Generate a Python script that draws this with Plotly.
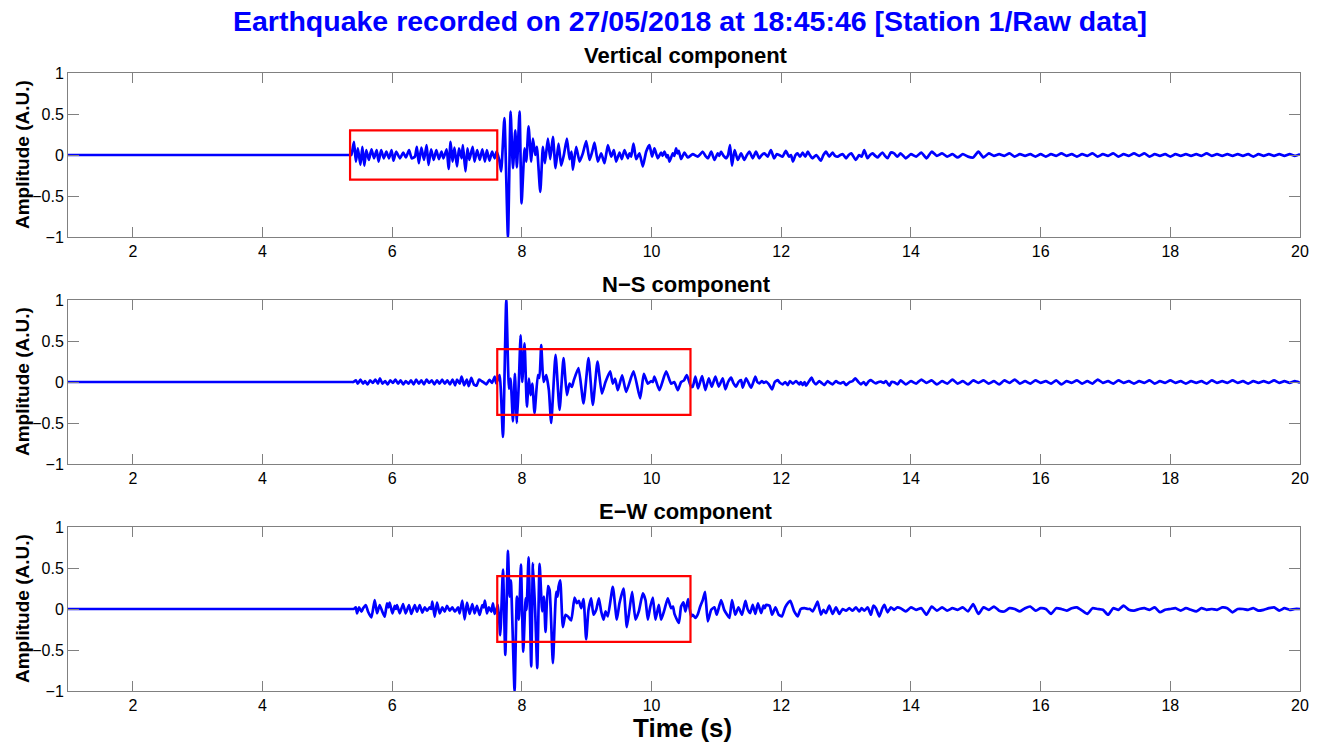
import numpy as np
import plotly.graph_objects as go

# ---------------- DATA ----------------
main_title = "Earthquake recorded on 27/05/2018 at 18:45:46 [Station 1/Raw data]"
components = ["Vertical component", "N\u2212S component", "E\u2212W component"]
x_ticks = [2, 4, 6, 8, 10, 12, 14, 16, 18, 20]
y_ticks = [-1, -0.5, 0, 0.5, 1]

# Vertical component: times (s) and amplitudes (A.U.) of the trace turning points
vert_t = [1.0, 5.35, 5.37, 5.41, 5.44, 5.47, 5.51, 5.54, 5.57, 5.60, 5.64, 5.68, 5.72, 5.76, 5.79,
          5.83, 5.87, 5.91, 5.95, 5.99, 6.02, 6.06, 6.12, 6.17, 6.21, 6.26, 6.30, 6.35, 6.38, 6.41,
          6.45, 6.49, 6.53, 6.56, 6.60, 6.64, 6.68, 6.72, 6.76, 6.79, 6.84, 6.87, 6.90, 6.93, 6.96,
          7.00, 7.03, 7.07, 7.09, 7.13, 7.16, 7.19, 7.24, 7.27, 7.31, 7.35, 7.39, 7.43, 7.46, 7.50,
          7.54, 7.58, 7.61, 7.65, 7.68, 7.73, 7.785, 7.826, 7.862, 7.898, 7.923, 7.964, 7.995, 8.041,
          8.067, 8.103, 8.144, 8.170, 8.206, 8.231, 8.283, 8.324, 8.355, 8.401, 8.437, 8.478, 8.519,
          8.565, 8.606, 8.647, 8.694, 8.735, 8.766, 8.786, 8.837, 8.889, 8.940, 8.992, 9.043, 9.084,
          9.120, 9.171, 9.223, 9.274, 9.326, 9.377, 9.418, 9.454, 9.505, 9.541, 9.582, 9.634, 9.66,
          9.685, 9.721, 9.762, 9.813, 9.865, 9.916, 9.967, 10.008, 10.044, 10.096, 10.147, 10.17,
          10.198, 10.234, 10.25, 10.276, 10.327, 10.35, 10.378, 10.40, 10.419, 10.455, 10.507, 10.558,
          10.635, 10.712, 10.79, 10.83, 10.87, 10.92, 10.97, 11.02, 11.045, 11.07, 11.11, 11.15, 11.18,
          11.21, 11.24, 11.28, 11.33, 11.38, 11.43, 11.47, 11.51, 11.56, 11.61, 11.66, 11.70, 11.74,
          11.79, 11.84, 11.89, 11.93, 11.97, 12.02, 12.07, 12.12, 12.15, 12.18, 12.22, 12.25, 12.29,
          12.33, 12.37, 12.41, 12.44, 12.48, 12.54, 12.61, 12.65, 12.69, 12.74, 12.79, 12.83, 12.87,
          12.91, 12.95, 13.00, 13.04, 13.08, 13.15, 13.20, 13.24, 13.28, 13.33, 13.37, 13.41, 13.45,
          13.49, 13.52, 13.56, 13.60, 13.64, 13.69, 13.74, 13.79]
vert_a = [0.0, 0.0, 0.0, 0.16, -0.08, 0.08, -0.12, 0.10, -0.13, 0.06, -0.06, 0.07, -0.04, 0.06, -0.08,
          0.06, -0.04, 0.04, -0.04, 0.06, -0.07, 0.04, -0.04, 0.03, -0.03, 0.06, -0.04, -0.02, 0.10, -0.10,
          0.09, -0.06, 0.12, -0.12, 0.07, -0.06, 0.06, -0.05, 0.04, -0.04, 0.07, -0.17, 0.16, -0.08, 0.09,
          -0.14, 0.08, -0.04, 0.12, -0.20, 0.08, -0.06, 0.10, -0.08, 0.06, -0.06, 0.07, -0.08, 0.06, -0.07,
          0.04, -0.04, 0.04, -0.06, -0.20, 0.45, -1.0, 0.53, -0.16, 0.30, -0.15, 0.53, -0.59, 0.08,
          -0.08, 0.35, -0.08, 0.20, 0.0, 0.10, -0.45, 0.10, -0.10, 0.20, -0.05, 0.22, -0.16,
          0.14, -0.13, 0.0, 0.20, -0.05, 0.04, -0.18, 0.10, -0.08, 0.02, 0.17, -0.06, 0.04,
          0.15, -0.08, 0.02, -0.10, 0.12, -0.02, 0.06, -0.08, 0.03, -0.05, 0.06, -0.04, 0.02,
          -0.02, 0.14, -0.05, 0.02, -0.14, 0.04, 0.12, -0.02, 0.08, -0.04, 0.03, -0.01,
          0.04, -0.03, 0.0, -0.08, 0.02, -0.01, 0.08, 0.02, 0.05, -0.05, 0.03, -0.03,
          0.01, -0.02, 0.04, -0.01, -0.04, 0.04, -0.06, 0.02, -0.01, 0.04, -0.01, -0.04, 0.0,
          0.12, -0.13, 0.06, -0.06, 0.02, -0.06, 0.0, 0.04, -0.04, 0.04, -0.04, 0.0, 0.02,
          -0.02, 0.06, -0.04, 0.01, 0.0, -0.02, 0.05, -0.02, 0.0, -0.08, 0.0, 0.02, -0.02,
          0.03, -0.02, 0.04, 0.0, -0.04, 0.0, -0.07, 0.0, 0.04, -0.02, 0.03, -0.01, -0.02,
          0.0, 0.01, -0.04, 0.0, 0.02, -0.06, 0.0, -0.02, 0.06, -0.04, 0.0, 0.02, -0.01,
          -0.03, 0.0, 0.03, -0.01, -0.04, 0.03, 0.02, -0.02]
vert_tail = [0.02, -0.04, 0.01, -0.02, 0.03, -0.04, 0.04, -0.01, 0.02, -0.02, 0.01, -0.03, 0.01, -0.02,
             -0.03, 0.04, -0.03, 0.02, -0.01, 0.01, -0.01, 0.02, -0.02, 0.01, -0.01, 0.01, -0.02, 0.01,
             -0.02, 0.01, -0.01, 0.02, -0.01, 0.01, -0.02, 0.01, -0.01, 0.02, -0.02, 0.01, -0.01, 0.02,
             -0.02, 0.01, -0.01, 0.02, -0.01, 0.02, -0.02, 0.01, -0.01, 0.01, -0.02, 0.01, -0.01, 0.01,
             -0.01, 0.01, -0.01, 0.02, -0.01, 0.01, -0.01, 0.01, -0.01, 0.01, -0.01, 0.01, -0.02, 0.01,
             -0.01, 0.01, -0.01, 0.01, -0.01, 0.01, -0.01, 0.01]

# N-S component
ns_t = [1.0, 5.38, 5.40, 5.44, 5.47, 5.51, 5.55, 5.58, 5.62, 5.66, 5.70, 5.74, 5.78, 5.81, 5.85, 5.89,
        5.93, 5.97, 6.01, 6.05, 6.09, 6.13, 6.17, 6.21, 6.25, 6.29, 6.33, 6.37, 6.41, 6.45, 6.49, 6.53,
        6.57, 6.61, 6.65, 6.69, 6.73, 6.77, 6.81, 6.85, 6.89, 6.93, 6.97, 7.00, 7.04, 7.07, 7.11, 7.15,
        7.18, 7.22, 7.26, 7.30, 7.34, 7.38, 7.42, 7.45, 7.50, 7.54, 7.58, 7.605, 7.656, 7.708, 7.759,
        7.80, 7.825, 7.862, 7.892, 7.923, 7.954, 7.98, 8.005, 8.041, 8.077, 8.108, 8.134, 8.16, 8.195,
        8.247, 8.27, 8.298, 8.334, 8.375, 8.416, 8.452, 8.519, 8.581, 8.642, 8.694, 8.735, 8.771, 8.80,
        8.873, 8.95, 9.027, 9.094, 9.166, 9.233, 9.289, 9.361, 9.402, 9.438, 9.479, 9.546, 9.608,
        9.721, 9.824, 9.88, 9.942, 9.993, 10.02, 10.044, 10.121, 10.224, 10.301, 10.35, 10.404,
        10.455, 10.50, 10.543, 10.61, 10.635, 10.676, 10.717, 10.779, 10.83, 10.882, 10.928, 10.984,
        11.036, 11.097, 11.139, 11.18, 11.226, 11.26, 11.303, 11.34, 11.38, 11.406, 11.457, 11.50,
        11.534, 11.57, 11.601, 11.63, 11.663, 11.70, 11.73, 11.765, 11.81, 11.858, 11.90, 11.945,
        11.98, 12.022, 12.06, 12.099, 12.135, 12.18, 12.227, 12.279, 12.30, 12.33, 12.36, 12.381,
        12.42, 12.469, 12.50, 12.536, 12.587, 12.62, 12.664, 12.715, 12.75, 12.792, 12.844, 12.88,
        12.921, 12.96, 12.998, 13.049, 13.10, 13.142, 13.19, 13.229, 13.27, 13.306, 13.35, 13.383,
        13.42, 13.46, 13.50, 13.537, 13.58, 13.614, 13.666, 13.70, 13.743, 13.794]
ns_a = [0.0, 0.0, 0.0, 0.02, -0.02, 0.03, -0.02, 0.01, -0.03, 0.02, -0.01, 0.03, -0.02, 0.045, -0.02, 0.01,
        -0.03, 0.02, -0.01, 0.03, -0.02, 0.02, -0.03, 0.01, -0.02, 0.02, -0.03, 0.03, -0.02, 0.02, -0.03, 0.03,
        -0.01, 0.02, -0.03, 0.02, -0.02, 0.03, -0.02, 0.02, -0.03, 0.03, -0.04, 0.03, -0.02, 0.065, -0.04, 0.03,
        -0.05, 0.05, -0.03, -0.045, 0.03, 0.01, -0.01, -0.03, 0.025, -0.01, 0.065, -0.015, 0.085, -0.67, 1.0,
        -0.08, 0.04, -0.48, 0.10, -0.50, 0.02, 0.57, 0.0, 0.47, -0.30, 0.04, -0.16, -0.02, -0.38,
        0.085, 0.05, 0.45, 0.0, 0.085, -0.10, -0.50, 0.33, -0.34, 0.29, -0.16, -0.02, -0.06, 0.02,
        0.17, -0.26, 0.29, -0.28, 0.25, -0.14, 0.0, 0.13, -0.02, 0.04, -0.10, 0.08, -0.12,
        0.13, -0.20, 0.10, -0.02, 0.01, 0.0, 0.065, -0.10, 0.13, -0.02, 0.0, -0.10,
        0.0, 0.02, 0.085, -0.06, -0.057, 0.065, -0.077, 0.073, -0.098, 0.045, -0.057, 0.065,
        -0.057, 0.045, -0.089, 0.0, 0.053, -0.01, -0.057, 0.0, 0.024, -0.069, 0.045, -0.02,
        -0.069, 0.0, 0.065, 0.0, -0.016, 0.01, -0.01, 0.004, -0.03, -0.089, 0.0, 0.024,
        -0.01, -0.028, 0.0, -0.037, 0.012, -0.02, 0.012, -0.028, 0.0, -0.037, 0.0, -0.045,
        0.0, 0.053, 0.0, -0.028, 0.012, -0.01, -0.037, 0.012, -0.01, -0.028, 0.012, -0.01,
        -0.016, 0.0, -0.037, -0.004, 0.01, 0.045, 0.0, -0.028, 0.0, -0.037, 0.01, 0.024,
        0.0, -0.016, 0.0, 0.004, -0.01, 0.012, -0.045, 0.0, -0.004, -0.028]
ns_tail = [0.02, -0.03, 0.01, -0.02, 0.03, -0.01, 0.02, -0.03, 0.01, -0.02, 0.03, -0.02, 0.01, -0.03,
           0.02, -0.01, 0.02, -0.02, 0.01, -0.03, 0.02, -0.01, 0.03, -0.02, 0.01, -0.02, 0.02, -0.01,
           0.01, -0.02, 0.02, -0.03, 0.01, -0.01, 0.02, -0.02, 0.01, -0.02, 0.03, -0.01, 0.01, -0.02,
           0.02, -0.01, 0.01, -0.02, 0.01, -0.01, 0.02, -0.02, 0.01, -0.01, 0.02, -0.01, 0.01, -0.02,
           0.01, -0.01, 0.01, -0.02, 0.02, -0.01, 0.01, -0.01, 0.02, -0.01, 0.01, -0.02, 0.01, -0.01,
           0.01, -0.01, 0.02, -0.01, 0.01, -0.01, 0.01, -0.01]

# E-W component
ew_t = [1.0, 5.40, 5.407, 5.438, 5.458, 5.489, 5.525, 5.551, 5.592, 5.628, 5.679, 5.730, 5.766, 5.807,
        5.848, 5.884, 5.920, 5.94, 5.961, 6.003, 6.039, 6.056, 6.074, 6.116, 6.167, 6.208, 6.259,
        6.295, 6.347, 6.383, 6.424, 6.465, 6.501, 6.537, 6.578, 6.60, 6.619, 6.655, 6.691, 6.732,
        6.773, 6.809, 6.845, 6.886, 6.927, 6.968, 7.014, 7.040, 7.081, 7.117, 7.153, 7.194, 7.235,
        7.271, 7.307, 7.348, 7.389, 7.41, 7.430, 7.461, 7.492, 7.528, 7.554, 7.579, 7.63, 7.666,
        7.708, 7.744, 7.785, 7.81, 7.83, 7.887, 7.923, 7.954, 7.985, 8.021, 8.057, 8.072, 8.103,
        8.144, 8.170, 8.206, 8.237, 8.273, 8.313, 8.339, 8.365, 8.401, 8.427, 8.478, 8.529, 8.55,
        8.565, 8.591, 8.632, 8.673, 8.709, 8.76, 8.812, 8.848, 8.879, 8.914, 8.950, 8.991, 9.027,
        9.068, 9.104, 9.146, 9.187, 9.223, 9.259, 9.29, 9.325, 9.402, 9.464, 9.505, 9.567, 9.618,
        9.659, 9.700, 9.752, 9.803, 9.865, 9.906, 9.942, 9.978, 10.019, 10.06, 10.111, 10.147,
        10.198, 10.25, 10.301, 10.33, 10.353, 10.42, 10.455, 10.491, 10.522, 10.563, 10.61, 10.635,
        10.676, 10.71, 10.75, 10.79, 10.825, 10.867, 10.92, 10.97, 11.005, 11.072, 11.12, 11.165,
        11.2, 11.241, 11.29, 11.34, 11.395, 11.447, 11.48, 11.52, 11.56, 11.60, 11.64, 11.69,
        11.725, 11.745, 11.765, 11.82, 11.858, 11.91, 11.96, 12.01, 12.06, 12.11, 12.14, 12.20,
        12.253, 12.30, 12.356, 12.41, 12.443, 12.485, 12.536, 12.56, 12.613, 12.65, 12.69, 12.74,
        12.792, 12.844, 12.895, 12.946, 12.998, 13.049, 13.10, 13.152, 13.203, 13.24, 13.28,
        13.332, 13.383, 13.42, 13.46, 13.511, 13.56, 13.59, 13.64, 13.69, 13.74, 13.79]
ew_a = [0.0, 0.0, 0.0, 0.02, -0.053, 0.02, -0.033, 0.008, 0.049, -0.033, -0.102, 0.11, -0.053, 0.049,
        -0.033, -0.093, 0.069, 0.02, 0.077, -0.053, 0.037, 0.0, 0.049, -0.053, 0.061, -0.053, 0.049,
        -0.061, 0.049, -0.033, 0.049, -0.045, 0.02, -0.02, 0.02, 0.0, 0.09, -0.093, 0.077, -0.053,
        0.02, -0.033, 0.037, -0.02, 0.02, -0.033, 0.02, -0.053, 0.102, -0.126, 0.077, -0.061, 0.061,
        -0.053, 0.037, -0.073, 0.049, 0.02, 0.102, -0.053, 0.02, -0.033, 0.069, -0.061, 0.049, -0.32,
        0.48, -0.56, 0.71, 0.15, 0.35, -1.0, 0.15, -0.13, 0.54, -0.52, 0.13, -0.01, 0.63,
        -0.70, 0.56, -0.05, -0.72, 0.55, -0.03, 0.15, -0.28, 0.28, 0.23, -0.66, 0.21, 0.15,
        0.27, 0.35, -0.22, -0.07, -0.09, -0.14, 0.14, 0.07, 0.10, 0.01, 0.12, -0.37, -0.01,
        0.13, -0.07, -0.01, 0.13, -0.03, -0.13, -0.03, -0.09, 0.27, -0.13, 0.07, 0.25, -0.22,
        -0.01, 0.21, -0.13, -0.03, 0.19, 0.11, -0.13, 0.02, 0.14, -0.13, 0.05, -0.13,
        -0.01, 0.13, 0.01, 0.03, -0.06, -0.17, 0.03, 0.08, -0.03, 0.12, -0.09, -0.07,
        -0.11, -0.07, 0.03, 0.11, 0.21, -0.15, -0.01, 0.02, -0.07, 0.11, -0.01, -0.07,
        -0.11, 0.11, -0.07, 0.02, -0.07, 0.10, 0.0, -0.05, 0.05, -0.06, 0.07, -0.05,
        0.04, 0.01, 0.05, 0.04, -0.07, 0.02, -0.07, -0.09, 0.02, 0.08, 0.10, -0.03,
        -0.09, 0.0, 0.01, 0.0, 0.0, -0.03, 0.05, 0.09, -0.07, -0.01, -0.05, 0.04,
        -0.06, 0.02, -0.06, 0.0, -0.02, 0.01, -0.02, 0.02, -0.03, 0.01, -0.02,
        0.02, -0.07, 0.04, 0.01, -0.09, 0.01, 0.05, -0.04, 0.02, -0.01, 0.02]
ew_tail = [0.01, -0.03, 0.02, -0.01, 0.01, -0.07, 0.03, -0.02, 0.02, -0.02, 0.01, -0.01, 0.02, -0.03,
           0.06, -0.06, 0.02, -0.01, 0.03, -0.02, -0.03, 0.01, 0.0, -0.03, 0.01, 0.03, -0.02, 0.01,
           0.0, -0.06, 0.01, 0.0, -0.02, 0.01, 0.02, -0.02, -0.06, 0.01, 0.0, -0.01, -0.07, 0.01,
           -0.01, 0.04, -0.01, -0.02, 0.0, 0.01, -0.01, 0.02, -0.04, -0.01, 0.0, 0.01, -0.02, 0.01,
           -0.01, -0.03, 0.01, -0.01, 0.0, -0.01, 0.02, 0.01, -0.04, 0.0, 0.0, -0.01, 0.01, -0.02,
           -0.01, 0.01, 0.02, -0.02, 0.01, -0.01, 0.0, 0.0]

series = [(vert_t, vert_a, vert_tail), (ns_t, ns_a, ns_tail), (ew_t, ew_a, ew_tail)]
tail_start, tail_end = 13.84, 20.0

# red boxes around the highlighted phases (time start, time end, half-height)
box_t0 = [5.35, 7.62, 7.62]
box_t1 = [7.62, 10.6, 10.6]
box_h = [0.3, 0.4, 0.4]

# ---------------- LAYOUT ----------------
W, H = 1322, 745
X0, X1 = 68, 1300            # left / right edge of the axes boxes (px)
panels = [(73, 237), (300, 464), (527, 691)]   # top / bottom of each axes box (px)
TOP, BOT = panels[0][0], panels[-1][1]
PW, PH = X1 - X0, BOT - TOP
title_y = [55, 284, 511]
FONT = "Liberation Sans, Arial, Helvetica, sans-serif"
GREY = "#808080"


def fx(px):   # pixel -> paper (plot-area) fraction
    return (px - X0) / PW


def fy(py):
    return 1 - (py - TOP) / PH


fig = go.Figure()
layout = dict(width=W, height=H,
              margin=dict(l=X0, r=W - X1, t=TOP, b=H - BOT, pad=0, autoexpand=False),
              paper_bgcolor="white", plot_bgcolor="white", showlegend=False,
              font=dict(family=FONT, color="black"))
annotations = []
shapes = []

for i, (t, a, tail) in enumerate(series):
    n = "" if i == 0 else str(i + 1)
    tt = list(t) + list(np.linspace(tail_start, tail_end, len(tail)))
    aa = list(a) + list(tail)
    fig.add_trace(go.Scatter(x=tt, y=aa, mode="lines",
                             line=dict(color="#0000ff", width=2.7, shape="spline", smoothing=0.5),
                             xaxis="x" + n, yaxis="y" + n, hoverinfo="skip"))
    top, bot = panels[i]
    common = dict(showline=True, linecolor=GREY, linewidth=1, mirror="ticks", ticks="inside",
                  tickcolor=GREY, tickwidth=1, showgrid=False, zeroline=False, automargin=False,
                  tickfont=dict(family=FONT, size=16, color="black"), fixedrange=True)
    layout["xaxis" + n] = dict(domain=[0, 1], range=[1, 20], tickvals=x_ticks,
                               anchor="y" + n, ticklen=10, **common)
    layout["yaxis" + n] = dict(domain=[max(0, fy(bot)), min(1, fy(top))], range=[-1, 1], tickvals=y_ticks,
                               anchor="x" + n, ticklen=11, **common)
    shapes.append(dict(type="rect", xref="x" + n, yref="y" + n, x0=box_t0[i], x1=box_t1[i],
                       y0=-box_h[i], y1=box_h[i], line=dict(color="#ff0000", width=2.2)))
    annotations.append(dict(text=components[i], x=fx(686), y=fy(title_y[i]), xref="paper", yref="paper",
                            showarrow=False, xanchor="center", yanchor="middle",
                            font=dict(family=FONT, size=22, color="black", weight="bold")))
    annotations.append(dict(text="Amplitude (A.U.)", x=fx(22), y=fy((top + bot) / 2),
                            xref="paper", yref="paper", showarrow=False, textangle=-90,
                            xanchor="center", yanchor="middle",
                            font=dict(family=FONT, size=19, color="black", weight="bold")))

annotations.append(dict(text=main_title, x=fx(690), y=fy(21), xref="paper", yref="paper",
                        showarrow=False, xanchor="center", yanchor="middle",
                        font=dict(family=FONT, size=28.5, color="#0000ff", weight="bold")))
annotations.append(dict(text="Time (s)", x=fx(682), y=fy(728), xref="paper", yref="paper",
                        showarrow=False, xanchor="center", yanchor="middle",
                        font=dict(family=FONT, size=26, color="black", weight="bold")))

layout["annotations"] = annotations
layout["shapes"] = shapes
fig.update_layout(**layout)
fig.write_html("out.html")
